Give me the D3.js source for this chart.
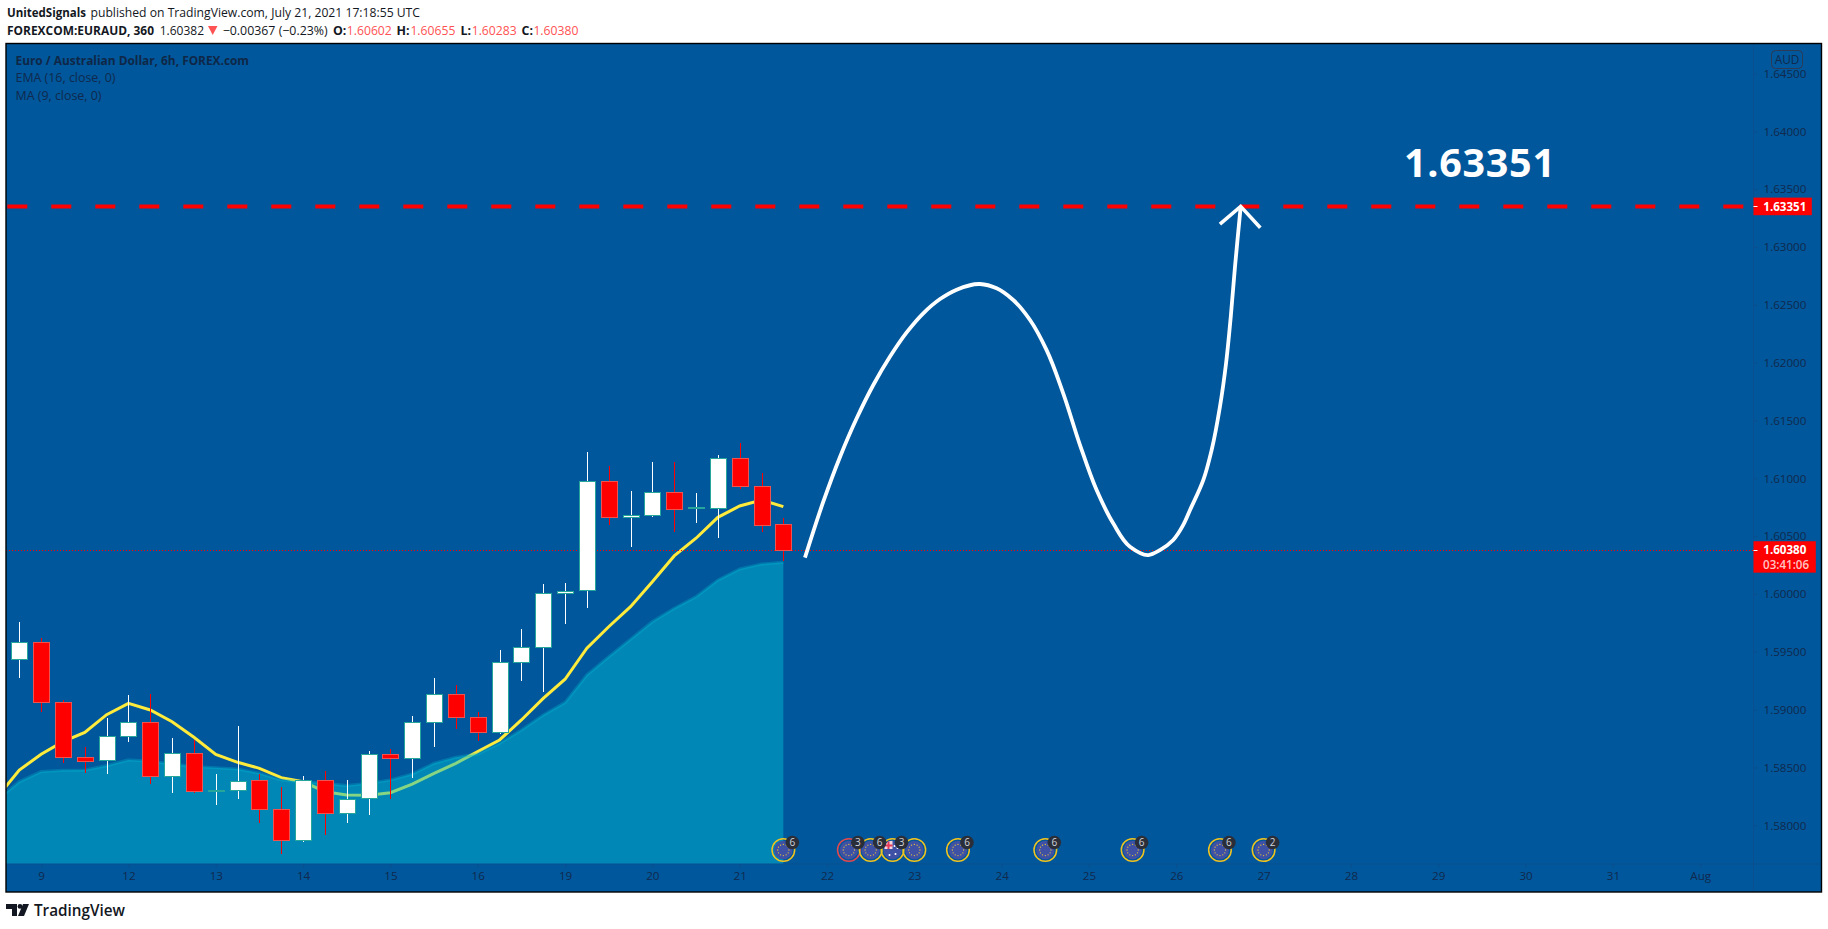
<!DOCTYPE html>
<html><head><meta charset="utf-8">
<script src="https://cdn.jsdelivr.net/npm/d3@7"></script>
<style>html,body{margin:0;padding:0;background:#fff;overflow:hidden}svg{display:block}text{font-family:"Open Sans",sans-serif}</style>
</head><body><div id="c"></div>
<script>
// ---- data ----
const opens  = [1.59435,1.59582,1.59064,1.58588,1.58562,1.58770,1.58896,1.58424,1.58628,1.58300,1.58303,1.58389,1.58139,1.57871,1.58395,1.58104,1.58234,1.58619,1.58580,1.58896,1.59133,1.58934,1.58804,1.59415,1.59544,1.60006,1.60032,1.60974,1.60663,1.60686,1.60879,1.60743,1.60746,1.61173,1.60931,1.60602];
const closes = [1.59582,1.59064,1.58588,1.58559,1.58770,1.58896,1.58424,1.58628,1.58294,1.58300,1.58386,1.58139,1.57871,1.58395,1.58104,1.58228,1.58619,1.58580,1.58896,1.59133,1.58934,1.58804,1.59415,1.59544,1.60006,1.60029,1.60974,1.60663,1.60686,1.60879,1.60737,1.60743,1.61173,1.60931,1.60599,1.60380];
const highs  = [1.59758,1.59622,1.59084,1.58675,1.58931,1.59127,1.59136,1.58755,1.58738,1.58444,1.58859,1.58444,1.58332,1.58427,1.58467,1.58389,1.58643,1.58657,1.58943,1.59274,1.59211,1.58980,1.59516,1.59697,1.60086,1.60095,1.61228,1.61107,1.60890,1.61141,1.61141,1.60873,1.61202,1.61303,1.61043,1.60655];
const lows   = [1.59276,1.58982,1.58536,1.58453,1.58446,1.58721,1.58357,1.58282,1.58277,1.58178,1.58228,1.58023,1.57752,1.57859,1.57917,1.58023,1.58089,1.58225,1.58409,1.58680,1.58830,1.58729,1.58792,1.59250,1.59155,1.59743,1.59882,1.60597,1.60409,1.60666,1.60539,1.60616,1.60487,1.60905,1.60539,1.60283];
// moving averages start one bar before the first visible candle
const maValues  = [1.58245,1.58478,1.58614,1.58723,1.58804,1.58957,1.59055,1.58997,1.58896,1.58761,1.58614,1.58545,1.58493,1.58412,1.58377,1.58291,1.58262,1.58260,1.58282,1.58357,1.58450,1.58536,1.58637,1.58738,1.58911,1.59098,1.59263,1.59531,1.59717,1.59890,1.60106,1.60329,1.60482,1.60663,1.60761,1.60813,1.60755];
const emaValues = [1.58223,1.58377,1.58464,1.58476,1.58478,1.58516,1.58565,1.58554,1.58530,1.58507,1.58498,1.58487,1.58450,1.58392,1.58377,1.58364,1.58343,1.58364,1.58392,1.58444,1.58536,1.58588,1.58617,1.58709,1.58824,1.58954,1.59062,1.59300,1.59458,1.59608,1.59761,1.59876,1.59977,1.60121,1.60216,1.60259,1.60274];
const priceTicks = [1.58,1.585,1.59,1.595,1.6,1.605,1.61,1.615,1.62,1.625,1.63,1.635,1.64,1.645];
const dayLabels = ["9","12","13","14","15","16","19","20","21","22","23","24","25","26","27","28","29","30","31","Aug"];
const dayBars   = [1,5,9,13,17,21,25,29,33,37,41,45,49,53,57,61,65,69,73,77];
const targetPrice = 1.63351, lastPrice = 1.6038;
const countdown = "03:41:06";
const pathBars   = [35.99,36.83,37.60,38.36,39.12,39.88,40.65,41.41,42.18,42.94,44.01,44.77,45.53,46.30,47.06,47.82,48.59,49.35,50.11,50.88,51.72,52.25,52.86,53.32,53.63,54.24,54.62,55.00,55.28,55.49,55.69,55.95];
const pathPrices = [1.60314,1.60798,1.61187,1.61519,1.61807,1.62051,1.62262,1.62427,1.62550,1.62631,1.62680,1.62643,1.62542,1.62369,1.62109,1.61735,1.61288,1.60899,1.60611,1.60409,1.60337,1.60380,1.60467,1.60597,1.60726,1.60986,1.61245,1.61619,1.61994,1.62385,1.62830,1.63348];
const headBars   = [55.0,55.95,56.85];
const headPrices = [1.63197,1.63351,1.63167];
const eventBars   = [35,38,39,40,41,43,47,51,55,57];
const eventCounts = [6,3,6,3,0,6,6,6,6,2];
const eventKinds  = ["eu","eur","eu","au","eu","eu","eu","eu","eu","eu"];

// ---- layout ----
const W=1828,H=929, L=6,T=43.5,R=1821.5,B=892, AX=1753.5, PB=864;
const BG="#01579b", INK="#10294d", RED="#ff0000", TEAL="#26a69a";
const x=d3.scaleLinear().domain([0,77]).range([19.3,1700.2]);
const y=d3.scaleLinear().domain([1.6,1.645]).range([594,73.5]);
const svg=d3.select("#c").append("svg").attr("width",W).attr("height",H);
const defs=svg.append("defs");
defs.append("clipPath").attr("id","plot").append("rect").attr("x",L).attr("y",T).attr("width",AX-L).attr("height",PB-T);

function fit(sel,len){return sel.attr("textLength",len).attr("lengthAdjust","spacingAndGlyphs");}

// header
const hdr=svg.append("g").attr("font-size",12.4).attr("fill","#131722");
fit(hdr.append("text").attr("x",7).attr("y",17).attr("font-weight",700).text("UnitedSignals"),79);
fit(hdr.append("text").attr("x",90.5).attr("y",17).text("published on TradingView.com, July 21, 2021 17:18:55 UTC"),329.5);
fit(hdr.append("text").attr("x",7).attr("y",34.5).attr("font-weight",700).text("FOREXCOM:EURAUD, 360"),147);
fit(hdr.append("text").attr("x",159.7).attr("y",34.5).text("1.60382"),44.3);
hdr.append("path").attr("d","M208,26L217.5,26L212.7,35Z").attr("fill","#ff5252");
fit(hdr.append("text").attr("x",222.7).attr("y",34.5).text("−0.00367 (−0.23%)"),105);
[["O:",333,"1.60602",346.8],["H:",396.6,"1.60655",410.4],["L:",460.6,"1.60283",471.7],["C:",521.5,"1.60380",533.4]].forEach(d=>{
  hdr.append("text").attr("x",d[1]).attr("y",34.5).attr("font-weight",700).text(d[0]);
  fit(hdr.append("text").attr("x",d[3]).attr("y",34.5).attr("fill","#ff5252").text(d[2]),45);
});

// pane
svg.append("rect").attr("x",L).attr("y",T).attr("width",R-L).attr("height",B-T).attr("fill",BG);

const plot=svg.append("g").attr("clip-path","url(#plot)");
const idx=d=>d-1; // moving-average arrays begin at bar -1
const maLine=d3.line().x((d,i)=>x(idx(i))).y(d=>y(d));
plot.append("path").attr("d",maLine(maValues)).attr("fill","none").attr("stroke","#ffeb3b").attr("stroke-width",3);
const emaArea=d3.area().x((d,i)=>x(idx(i))).y0(PB).y1(d=>y(d));
plot.append("path").attr("d",emaArea(emaValues)).attr("fill","#00bcd4").attr("fill-opacity",.48);
plot.append("path").attr("d",maLine(emaValues)).attr("fill","none").attr("stroke","#00bcd4").attr("stroke-opacity",.3).attr("stroke-width",3.2);

// level lines
svg.append("line").attr("x1",7.3).attr("x2",AX).attr("y1",y(targetPrice)).attr("y2",y(targetPrice))
  .attr("stroke",RED).attr("stroke-width",4).attr("stroke-dasharray","20 24");
svg.append("line").attr("x1",L).attr("x2",AX).attr("y1",Math.round(y(lastPrice))+.5).attr("y2",Math.round(y(lastPrice))+.5)
  .attr("stroke",RED).attr("stroke-width",1).attr("stroke-dasharray","1 2");

// candles
const bars=opens.map((o,i)=>({i,o,c:closes[i],h:highs[i],l:lows[i]}));
const cg=svg.append("g").attr("clip-path","url(#plot)").attr("shape-rendering","crispEdges");
bars.forEach(b=>{
  const up=b.c>=b.o, cx=Math.round(x(b.i))+.5;
  cg.append("line").attr("x1",cx).attr("x2",cx).attr("y1",y(b.h)).attr("y2",y(b.l)).attr("stroke",up?"#fff":RED);
});
bars.forEach(b=>{
  const up=b.c>=b.o, cx=Math.round(x(b.i)), top=Math.round(y(Math.max(b.o,b.c))), bot=Math.round(y(Math.min(b.o,b.c)));
  const doji=b.o===b.c;
  cg.append("rect").attr("x",cx-8+.5).attr("y",top+.5-(doji?1:0)).attr("width",16).attr("height",doji?1:Math.max(bot-top,1))
    .attr("fill",doji?TEAL:(up?"#fff":RED)).attr("stroke",up?TEAL:"#ef5350");
});

// hand-drawn projection
svg.append("path").attr("d",d3.line().x(d=>x(d[0])).y(d=>y(d[1])).curve(d3.curveCatmullRom.alpha(1))(pathBars.map((b,i)=>[b,pathPrices[i]])))
  .attr("fill","none").attr("stroke","#fff").attr("stroke-width",3.8);
svg.append("path").attr("d",d3.line().x(d=>x(d[0])).y(d=>y(d[1]))(headBars.map((b,i)=>[b,headPrices[i]])))
  .attr("fill","none").attr("stroke","#fff").attr("stroke-width",3.6);
svg.append("text").attr("x",1404).attr("y",176.7).attr("font-size",39.5).attr("font-weight",700).attr("fill","#fff").attr("letter-spacing",.7).text("1.63351");

// legend
const lg=svg.append("g").attr("font-size",12.4);
fit(lg.append("text").attr("x",15.5).attr("y",65).attr("font-weight",700).attr("fill","#0f2747").text("Euro / Australian Dollar, 6h, FOREX.com"),233.5);
fit(lg.append("text").attr("x",15.5).attr("y",82).attr("fill",INK).text("EMA (16, close, 0)"),100);
fit(lg.append("text").attr("x",15.5).attr("y",99.5).attr("fill",INK).text("MA (9, close, 0)"),86);

// price axis
const yAxis=d3.axisRight(y).tickValues(priceTicks).tickFormat(d3.format(".5f")).tickSize(4).tickPadding(6);
const ya=svg.append("g").attr("transform",`translate(${AX},0)`).call(yAxis);
ya.select(".domain").attr("d",`M0,${T}V${B}`).attr("stroke","#0a4f8f");
ya.selectAll(".tick line").attr("stroke","#0a4f8f");
ya.selectAll(".tick text").attr("fill",INK).attr("font-size",11.6).attr("font-family","'Open Sans',sans-serif");

// time axis
const xAxis=d3.axisBottom(x).tickValues(dayBars).tickFormat((d,i)=>dayLabels[i]).tickSize(4).tickPadding(4);
const xa=svg.append("g").attr("transform",`translate(0,${PB})`).call(xAxis);
xa.select(".domain").attr("d",`M${L},0H${R}`).attr("stroke","#0a4f8f");
xa.selectAll(".tick line").attr("stroke","#0a4f8f");
xa.selectAll(".tick text").attr("fill",INK).attr("font-size",11.6).attr("font-family","'Open Sans',sans-serif");

// AUD badge
svg.append("rect").attr("x",1771.5).attr("y",50.5).attr("width",31).attr("height",18).attr("rx",4).attr("fill","none").attr("stroke","#2b3a55").attr("stroke-width",1);
svg.append("text").attr("x",1787).attr("y",64).attr("text-anchor","middle").attr("font-size",11.8).attr("fill",INK).text("AUD");

// price labels
function tag(price,h1,h2,w){
  const cy=y(price);
  svg.append("rect").attr("x",AX).attr("y",cy-h1).attr("width",w).attr("height",h1+h2).attr("fill",RED);
  svg.append("line").attr("x1",AX).attr("x2",AX+4).attr("y1",Math.round(cy)+.5).attr("y2",Math.round(cy)+.5).attr("stroke","#fff");
  svg.append("text").attr("x",1763.3).attr("y",cy+4.3).attr("font-size",11.6).attr("font-weight",700).attr("fill","#fff").text(price.toFixed(5));
}
tag(targetPrice,8.8,8.8,58.3);
tag(lastPrice,8.8,22.6,62.3);
svg.append("text").attr("x",1763).attr("y",y(lastPrice)+18.6).attr("font-size",11.6).attr("font-weight",600).attr("fill","#ffc4c4").text(countdown);

// economic event markers
const EY=850;
const starAngles=d3.range(12).map(i=>i*Math.PI/6);
const ev=svg.append("g");
eventBars.forEach((b,i)=>{
  const cx=x(b), kind=eventKinds[i];
  const g=ev.append("g").attr("transform",`translate(${cx},${EY})`);
  g.append("circle").attr("r",11.3).attr("fill","none").attr("stroke",kind==="eur"?"#e5484d":"#f2c31e").attr("stroke-width",1.5);
  g.append("circle").attr("r",9.2).attr("fill","#3f51a5");
  if(kind==="au"){
    g.append("path").attr("d","M-8,-4.5A9.2,9.2 0 0 1 0,-9.2V-1H-8Z").attr("fill","#f4d6dc");
    g.append("path").attr("d","M-4,-8.5V-1M-8,-4.5H0").attr("stroke","#e5395a").attr("stroke-width",2);
    [[-3,5],[3,4],[5,-2],[2,-4]].forEach(p=>g.append("circle").attr("cx",p[0]).attr("cy",p[1]).attr("r",1).attr("fill","#fff"));
  } else {
    starAngles.forEach(a=>g.append("circle").attr("cx",5.6*Math.cos(a)).attr("cy",5.6*Math.sin(a)).attr("r",.65).attr("fill","#e8c53a"));
  }
});
eventBars.forEach((b,i)=>{
  if(!eventCounts[i]) return;
  const g=ev.append("g").attr("transform",`translate(${x(b)+9},${EY-7.5})`);
  g.append("circle").attr("r",6.8).attr("fill","#2a2e39");
  g.append("text").attr("y",3.6).attr("text-anchor","middle").attr("font-size",10).attr("fill","#d1d4dc").text(eventCounts[i]);
});

// frame
svg.append("rect").attr("x",L).attr("y",T).attr("width",R-L).attr("height",B-T).attr("fill","none").attr("stroke","#000").attr("stroke-width",1.4);

// logo
const lo=svg.append("g").attr("fill","#131722");
lo.append("path").attr("d","M6,904H17V916H12V909H6Z");
lo.append("circle").attr("cx",20).attr("cy",906.4).attr("r",2.4);
lo.append("path").attr("d","M23,904H29L24,916H18Z");
fit(lo.append("text").attr("x",34).attr("y",916).attr("font-size",16.2).attr("font-weight",600).attr("font-family","Inter,Roboto,sans-serif").text("TradingView"),91);
</script></body></html>
